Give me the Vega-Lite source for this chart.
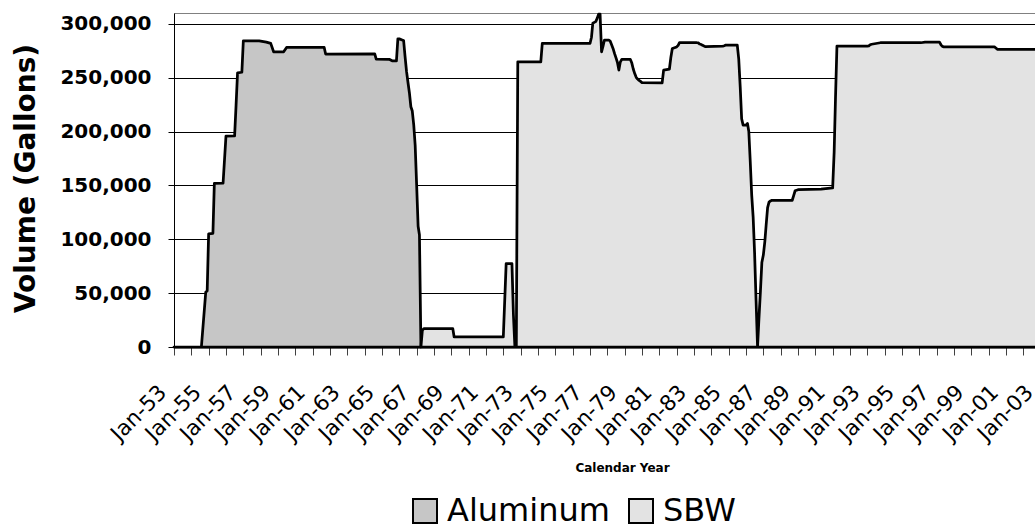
{
  "$schema": "https://vega.github.io/schema/vega-lite/v6.json",
  "width": 884,
  "height": 334,
  "autosize": {"type": "none"},
  "padding": {"left": 174, "top": 13, "right": -23, "bottom": 180},
  "background": "white",
  "config": {
    "font": "DejaVu Sans",
    "view": {"stroke": "#808080", "strokeWidth": 1}
  },
  "data": {
    "values": [
      {"series": "Aluminum", "date": "1953-01-01", "volume": 0},
      {"series": "Aluminum", "date": "1954-08-01", "volume": 0},
      {"series": "Aluminum", "date": "1954-11-01", "volume": 51000},
      {"series": "Aluminum", "date": "1954-12-01", "volume": 52000},
      {"series": "Aluminum", "date": "1955-01-01", "volume": 105000},
      {"series": "Aluminum", "date": "1955-04-01", "volume": 105500},
      {"series": "Aluminum", "date": "1955-05-01", "volume": 151800},
      {"series": "Aluminum", "date": "1955-11-01", "volume": 152000},
      {"series": "Aluminum", "date": "1956-01-01", "volume": 195700},
      {"series": "Aluminum", "date": "1956-07-01", "volume": 196000},
      {"series": "Aluminum", "date": "1956-08-01", "volume": 224500},
      {"series": "Aluminum", "date": "1956-09-01", "volume": 254500},
      {"series": "Aluminum", "date": "1956-12-01", "volume": 255000},
      {"series": "Aluminum", "date": "1957-01-01", "volume": 284200},
      {"series": "Aluminum", "date": "1957-12-01", "volume": 284200},
      {"series": "Aluminum", "date": "1958-05-01", "volume": 283000},
      {"series": "Aluminum", "date": "1958-08-01", "volume": 281800},
      {"series": "Aluminum", "date": "1958-10-01", "volume": 274000},
      {"series": "Aluminum", "date": "1959-05-01", "volume": 274000},
      {"series": "Aluminum", "date": "1959-07-01", "volume": 278000},
      {"series": "Aluminum", "date": "1961-09-01", "volume": 278000},
      {"series": "Aluminum", "date": "1961-10-01", "volume": 271900},
      {"series": "Aluminum", "date": "1964-08-01", "volume": 272000},
      {"series": "Aluminum", "date": "1964-09-01", "volume": 267200},
      {"series": "Aluminum", "date": "1965-06-01", "volume": 267000},
      {"series": "Aluminum", "date": "1965-08-01", "volume": 265600},
      {"series": "Aluminum", "date": "1965-11-01", "volume": 265600},
      {"series": "Aluminum", "date": "1965-12-01", "volume": 286000},
      {"series": "Aluminum", "date": "1966-01-01", "volume": 286000},
      {"series": "Aluminum", "date": "1966-03-01", "volume": 285000},
      {"series": "Aluminum", "date": "1966-04-01", "volume": 284500},
      {"series": "Aluminum", "date": "1966-05-01", "volume": 270000},
      {"series": "Aluminum", "date": "1966-06-01", "volume": 256000},
      {"series": "Aluminum", "date": "1966-07-01", "volume": 246000},
      {"series": "Aluminum", "date": "1966-08-01", "volume": 236000},
      {"series": "Aluminum", "date": "1966-09-01", "volume": 223000},
      {"series": "Aluminum", "date": "1966-10-01", "volume": 219000},
      {"series": "Aluminum", "date": "1966-11-01", "volume": 206000},
      {"series": "Aluminum", "date": "1966-12-01", "volume": 187000},
      {"series": "Aluminum", "date": "1967-01-01", "volume": 150000},
      {"series": "Aluminum", "date": "1967-02-01", "volume": 112000},
      {"series": "Aluminum", "date": "1967-03-01", "volume": 104000},
      {"series": "Aluminum", "date": "1967-04-01", "volume": 0},

      {"series": "SBW", "date": "1967-04-01", "volume": 0},
      {"series": "SBW", "date": "1967-05-01", "volume": 15500},
      {"series": "SBW", "date": "1967-06-01", "volume": 17000},
      {"series": "SBW", "date": "1969-02-01", "volume": 17000},
      {"series": "SBW", "date": "1969-03-01", "volume": 9300},
      {"series": "SBW", "date": "1972-01-01", "volume": 9300},
      {"series": "SBW", "date": "1972-03-01", "volume": 77400},
      {"series": "SBW", "date": "1972-07-01", "volume": 77400},
      {"series": "SBW", "date": "1972-08-01", "volume": 30000},
      {"series": "SBW", "date": "1972-09-01", "volume": 0},
      {"series": "SBW", "date": "1972-10-01", "volume": 0},
      {"series": "SBW", "date": "1972-11-01", "volume": 264700},
      {"series": "SBW", "date": "1974-03-01", "volume": 264700},
      {"series": "SBW", "date": "1974-04-01", "volume": 281800},
      {"series": "SBW", "date": "1977-01-01", "volume": 281800},
      {"series": "SBW", "date": "1977-02-01", "volume": 287500},
      {"series": "SBW", "date": "1977-03-01", "volume": 300500},
      {"series": "SBW", "date": "1977-04-01", "volume": 301300},
      {"series": "SBW", "date": "1977-05-01", "volume": 302000},
      {"series": "SBW", "date": "1977-06-01", "volume": 305000},
      {"series": "SBW", "date": "1977-07-01", "volume": 309000},
      {"series": "SBW", "date": "1977-08-01", "volume": 309000},
      {"series": "SBW", "date": "1977-09-01", "volume": 274000},
      {"series": "SBW", "date": "1977-10-01", "volume": 279000},
      {"series": "SBW", "date": "1977-11-01", "volume": 284900},
      {"series": "SBW", "date": "1978-02-01", "volume": 284900},
      {"series": "SBW", "date": "1978-03-01", "volume": 284000},
      {"series": "SBW", "date": "1978-04-01", "volume": 280500},
      {"series": "SBW", "date": "1978-05-01", "volume": 277100},
      {"series": "SBW", "date": "1978-06-01", "volume": 272500},
      {"series": "SBW", "date": "1978-07-01", "volume": 268600},
      {"series": "SBW", "date": "1978-08-01", "volume": 264300},
      {"series": "SBW", "date": "1978-09-01", "volume": 257000},
      {"series": "SBW", "date": "1978-10-01", "volume": 264400},
      {"series": "SBW", "date": "1978-11-01", "volume": 266900},
      {"series": "SBW", "date": "1979-05-01", "volume": 266900},
      {"series": "SBW", "date": "1979-06-01", "volume": 263500},
      {"series": "SBW", "date": "1979-07-01", "volume": 258000},
      {"series": "SBW", "date": "1979-08-01", "volume": 253800},
      {"series": "SBW", "date": "1979-09-01", "volume": 250300},
      {"series": "SBW", "date": "1979-10-01", "volume": 248700},
      {"series": "SBW", "date": "1979-11-01", "volume": 247400},
      {"series": "SBW", "date": "1979-12-01", "volume": 246500},
      {"series": "SBW", "date": "1980-01-01", "volume": 245400},
      {"series": "SBW", "date": "1981-03-01", "volume": 245200},
      {"series": "SBW", "date": "1981-04-01", "volume": 257000},
      {"series": "SBW", "date": "1981-08-01", "volume": 258000},
      {"series": "SBW", "date": "1981-09-01", "volume": 269000},
      {"series": "SBW", "date": "1981-10-01", "volume": 277000},
      {"series": "SBW", "date": "1981-11-01", "volume": 277500},
      {"series": "SBW", "date": "1981-12-01", "volume": 278000},
      {"series": "SBW", "date": "1982-01-01", "volume": 278500},
      {"series": "SBW", "date": "1982-02-01", "volume": 280000},
      {"series": "SBW", "date": "1982-03-01", "volume": 282400},
      {"series": "SBW", "date": "1983-03-01", "volume": 282400},
      {"series": "SBW", "date": "1983-04-01", "volume": 282200},
      {"series": "SBW", "date": "1983-05-01", "volume": 281200},
      {"series": "SBW", "date": "1983-06-01", "volume": 280800},
      {"series": "SBW", "date": "1983-07-01", "volume": 280000},
      {"series": "SBW", "date": "1983-08-01", "volume": 279300},
      {"series": "SBW", "date": "1983-09-01", "volume": 278700},
      {"series": "SBW", "date": "1984-09-01", "volume": 279300},
      {"series": "SBW", "date": "1984-10-01", "volume": 279600},
      {"series": "SBW", "date": "1984-11-01", "volume": 280200},
      {"series": "SBW", "date": "1985-07-01", "volume": 280200},
      {"series": "SBW", "date": "1985-08-01", "volume": 267200},
      {"series": "SBW", "date": "1985-09-01", "volume": 241200},
      {"series": "SBW", "date": "1985-10-01", "volume": 211800},
      {"series": "SBW", "date": "1985-11-01", "volume": 205900},
      {"series": "SBW", "date": "1986-01-01", "volume": 206000},
      {"series": "SBW", "date": "1986-02-01", "volume": 207500},
      {"series": "SBW", "date": "1986-03-01", "volume": 200000},
      {"series": "SBW", "date": "1986-04-01", "volume": 171500},
      {"series": "SBW", "date": "1986-05-01", "volume": 141000},
      {"series": "SBW", "date": "1986-06-01", "volume": 120000},
      {"series": "SBW", "date": "1986-07-01", "volume": 87000},
      {"series": "SBW", "date": "1986-08-01", "volume": 43000},
      {"series": "SBW", "date": "1986-09-01", "volume": 0},
      {"series": "SBW", "date": "1986-10-01", "volume": 26800},
      {"series": "SBW", "date": "1986-11-01", "volume": 51800},
      {"series": "SBW", "date": "1986-12-01", "volume": 78500},
      {"series": "SBW", "date": "1987-01-01", "volume": 85300},
      {"series": "SBW", "date": "1987-02-01", "volume": 97600},
      {"series": "SBW", "date": "1987-03-01", "volume": 113000},
      {"series": "SBW", "date": "1987-04-01", "volume": 129400},
      {"series": "SBW", "date": "1987-05-01", "volume": 134500},
      {"series": "SBW", "date": "1987-06-01", "volume": 135600},
      {"series": "SBW", "date": "1987-07-01", "volume": 136200},
      {"series": "SBW", "date": "1988-09-01", "volume": 136200},
      {"series": "SBW", "date": "1988-10-01", "volume": 140500},
      {"series": "SBW", "date": "1988-11-01", "volume": 145000},
      {"series": "SBW", "date": "1988-12-01", "volume": 145500},
      {"series": "SBW", "date": "1989-01-01", "volume": 146000},
      {"series": "SBW", "date": "1990-05-01", "volume": 146500},
      {"series": "SBW", "date": "1991-01-01", "volume": 147700},
      {"series": "SBW", "date": "1991-02-01", "volume": 180600},
      {"series": "SBW", "date": "1991-03-01", "volume": 230000},
      {"series": "SBW", "date": "1991-04-01", "volume": 279300},
      {"series": "SBW", "date": "1993-01-01", "volume": 279300},
      {"series": "SBW", "date": "1993-02-01", "volume": 279500},
      {"series": "SBW", "date": "1993-03-01", "volume": 280500},
      {"series": "SBW", "date": "1993-04-01", "volume": 281000},
      {"series": "SBW", "date": "1993-10-01", "volume": 282400},
      {"series": "SBW", "date": "1996-02-01", "volume": 282400},
      {"series": "SBW", "date": "1996-05-01", "volume": 283000},
      {"series": "SBW", "date": "1997-03-01", "volume": 283000},
      {"series": "SBW", "date": "1997-04-01", "volume": 280500},
      {"series": "SBW", "date": "1997-05-01", "volume": 279000},
      {"series": "SBW", "date": "1997-06-01", "volume": 278600},
      {"series": "SBW", "date": "2000-05-01", "volume": 278600},
      {"series": "SBW", "date": "2000-06-01", "volume": 277500},
      {"series": "SBW", "date": "2000-07-01", "volume": 276300},
      {"series": "SBW", "date": "2004-01-01", "volume": 276200}
    ]
  },
  "mark": {"type": "area", "stroke": "black", "strokeWidth": 2.75, "strokeJoin": "round", "interpolate": "linear"},
  "encoding": {
    "x": {
      "field": "date",
      "type": "temporal",
      "scale": {
        "type": "utc",
        "domain": [
          {"year": 1953, "month": 1, "date": 1, "utc": true},
          {"year": 2004, "month": 1, "date": 1, "utc": true}
        ]
      },
      "axis": {
        "title": "Calendar Year",
        "titleFontSize": 12,
        "titleFontWeight": "bold",
        "titleColor": "black",
        "titleX": 448,
        "titleY": 124,
        "titleAlign": "center",
        "titleBaseline": "alphabetic",
        "tickCount": {"interval": "year", "step": 1},
        "labelExpr": "utcyear(datum.value) % 2 == 1 ? utcFormat(datum.value, '%b-%y') : ''",
        "labelAngle": -45,
        "labelAlign": "right",
        "labelBaseline": "middle",
        "labelFontSize": 21.5,
        "labelColor": "black",
        "labelPadding": 34,
        "labelOffset": -11,
        "labelOverlap": false,
        "labelFlush": false,
        "labelBound": false,
        "tickSize": 8,
        "tickColor": "#404040",
        "tickWidth": 1,
        "domainColor": "black",
        "domainWidth": 1.5,
        "grid": false
      }
    },
    "y": {
      "field": "volume",
      "type": "quantitative",
      "stack": null,
      "scale": {"domain": [0, 310000], "nice": false, "zero": true},
      "axis": {
        "title": "Volume (Gallons)",
        "titleFontSize": 28,
        "titleFontWeight": "bold",
        "titleColor": "black",
        "titleX": -148,
        "titleY": 165,
        "titleAlign": "center",
        "titleBaseline": "middle",
        "titleAngle": -90,
        "values": [0, 50000, 100000, 150000, 200000, 250000, 300000],
        "format": ",.0f",
        "labelFontSize": 20,
        "labelFontWeight": "bold",
        "labelColor": "black",
        "labelPadding": 17,
        "tickSize": 6,
        "tickColor": "black",
        "domainColor": "black",
        "grid": true,
        "gridColor": "black",
        "gridWidth": 1
      }
    },
    "color": {
      "field": "series",
      "type": "nominal",
      "scale": {"domain": ["Aluminum", "SBW"], "range": ["#c6c6c6", "#e3e3e3"]},
      "legend": {
        "title": null,
        "orient": "none",
        "legendX": 235,
        "legendY": 482,
        "direction": "horizontal",
        "padding": 0,
        "symbolType": "square",
        "symbolSize": 576,
        "symbolStrokeColor": "black",
        "symbolStrokeWidth": 2,
        "symbolOpacity": 1,
        "labelFontSize": 32,
        "labelColor": "black",
        "labelOffset": 6,
        "labelLimit": 0,
        "columnPadding": 15
      }
    }
  }
}
